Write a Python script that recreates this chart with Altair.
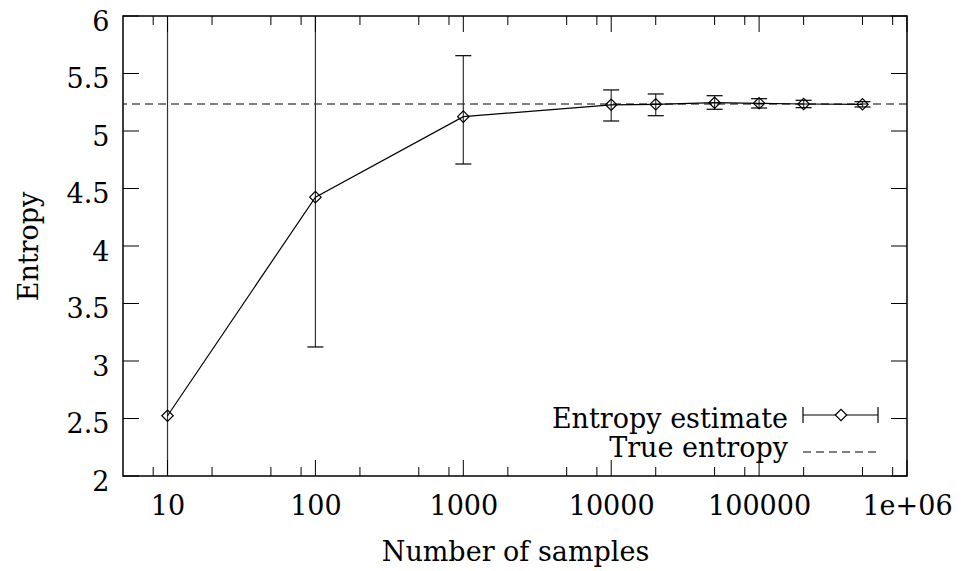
import altair as alt
import pandas as pd

# ---- data ----
samples = [10, 100, 1000, 10000, 20000, 50000, 100000, 200000, 500000]
estimate = [2.524, 4.425, 5.125, 5.228, 5.232, 5.246, 5.241, 5.235, 5.232]
err_low = [0.0, 3.122, 4.713, 5.087, 5.133, 5.189, 5.200, 5.203, 5.209]
err_high = [6.4, 6.4, 5.655, 5.357, 5.322, 5.307, 5.281, 5.267, 5.255]
true_entropy = [5.235]

x_major = [10, 100, 1000, 10000, 100000, 1000000]
x_minor = [8, 20, 50, 80, 200, 500, 800, 2000, 5000, 8000,
           20000, 50000, 80000, 200000, 500000, 800000]
y_ticks = [2, 2.5, 3, 3.5, 4, 4.5, 5, 5.5, 6]
legend_labels = ["Entropy estimate", "True entropy"]

FONT = "DejaVu Serif"
FS = 27
W, H = 784, 460

df = pd.DataFrame({"x": samples, "y": estimate, "lo": err_low, "hi": err_high})
df_true = pd.DataFrame({"y": true_entropy})
df_major = pd.DataFrame({"x": x_major})
df_minor = pd.DataFrame({"x": x_minor})
df_yt = pd.DataFrame({"y": y_ticks})
one = alt.Data(values=[{"k": 0}])

xs = alt.Scale(type="log", domain=[5, 1000000], nice=False)
ys = alt.Scale(domain=[2, 6], nice=False, zero=False)

xaxis = alt.Axis(
    values=x_major,
    labelExpr="datum.value >= 1000000 ? '1e+06' : format(datum.value, 'd')",
    ticks=False, domain=False, grid=False,
    labelPadding=17, labelFont=FONT, labelFontSize=FS, labelColor="black",
    labelFlush=False, labelOverlap=False,
    title="Number of samples", titleFont=FONT, titleFontSize=FS,
    titleFontWeight="normal", titleColor="black", titleY=76, titleBaseline="middle",
)
yaxis = alt.Axis(
    values=y_ticks, format="~g",
    ticks=False, domain=False, grid=False,
    labelPadding=14, labelOffset=6, labelFont=FONT, labelFontSize=FS, labelColor="black",
    labelFlush=False, labelOverlap=False,
    title="Entropy", titleFont=FONT, titleFontSize=FS,
    titleFontWeight="normal", titleColor="black", titleX=-94, titleY=230,
    titleBaseline="middle", titleAngle=270,
)

X = alt.X("x:Q", scale=xs, axis=xaxis)
Y = alt.Y("y:Q", scale=ys, axis=yaxis)

# frame ticks (inward)
yt_left = alt.Chart(df_yt).mark_rule(color="black", strokeWidth=1).encode(
    y=Y, x=alt.value(0), x2=alt.value(16))
yt_right = alt.Chart(df_yt).mark_rule(color="black", strokeWidth=1).encode(
    y=Y, x=alt.value(W), x2=alt.value(W - 16))
xt_bot = alt.Chart(df_major).mark_rule(color="black", strokeWidth=1).encode(
    x=X, y=alt.value(H), y2=alt.value(H - 16))
xt_top = alt.Chart(df_major).mark_rule(color="black", strokeWidth=1).encode(
    x=X, y=alt.value(0), y2=alt.value(16))
xm_bot = alt.Chart(df_minor).mark_rule(color="black", strokeWidth=1).encode(
    x=X, y=alt.value(H), y2=alt.value(H - 9))
xm_top = alt.Chart(df_minor).mark_rule(color="black", strokeWidth=1).encode(
    x=X, y=alt.value(0), y2=alt.value(9))

true_line = alt.Chart(df_true).mark_rule(
    color="black", strokeWidth=1.2, strokeDash=[8, 5]).encode(y=Y)

err_bar = alt.Chart(df).mark_rule(color="#333", strokeWidth=1.2, clip=True).encode(
    x=X, y=alt.Y("lo:Q", scale=ys, axis=yaxis), y2="hi:Q")
cap_lo = alt.Chart(df).mark_rule(color="black", strokeWidth=1.2, clip=True,
                                 xOffset=-8, x2Offset=8).encode(
    x=X, x2="x:Q", y=alt.Y("lo:Q", scale=ys, axis=yaxis))
cap_hi = alt.Chart(df).mark_rule(color="black", strokeWidth=1.2, clip=True,
                                 xOffset=-8, x2Offset=8).encode(
    x=X, x2="x:Q", y=alt.Y("hi:Q", scale=ys, axis=yaxis))
line = alt.Chart(df).mark_line(color="black", strokeWidth=1.2).encode(x=X, y=Y)
pts = alt.Chart(df).mark_point(shape="diamond", size=130, filled=False,
                               color="black", strokeWidth=1.2, opacity=1).encode(x=X, y=Y)

# legend (inside plot, bottom right)
LX_TEXT, LX0, LX1, LXD = 665, 680, 755, 718
LY1, LY2 = 399, 436
leg_t1 = alt.Chart(one).mark_text(text=legend_labels[0], align="right", baseline="middle",
                                  font=FONT, fontSize=FS, color="black").encode(
    x=alt.value(LX_TEXT), y=alt.value(LY1 + 5))
leg_t2 = alt.Chart(one).mark_text(text=legend_labels[1], align="right", baseline="middle",
                                  font=FONT, fontSize=FS, color="black").encode(
    x=alt.value(LX_TEXT), y=alt.value(LY2 - 3))
leg_l1 = alt.Chart(one).mark_rule(color="black", strokeWidth=1.2).encode(
    x=alt.value(LX0), x2=alt.value(LX1), y=alt.value(LY1))
leg_c1 = alt.Chart(one).mark_rule(color="black", strokeWidth=1.2).encode(
    x=alt.value(LX0), y=alt.value(LY1 - 8), y2=alt.value(LY1 + 8))
leg_c2 = alt.Chart(one).mark_rule(color="black", strokeWidth=1.2).encode(
    x=alt.value(LX1), y=alt.value(LY1 - 8), y2=alt.value(LY1 + 8))
leg_p = alt.Chart(one).mark_point(shape="diamond", size=130, filled=True, fill="white",
                                  stroke="black", strokeWidth=1.2, opacity=1).encode(
    x=alt.value(LXD), y=alt.value(LY1))
leg_d = alt.Chart(one).mark_rule(color="black", strokeWidth=1.2, strokeDash=[8, 5]).encode(
    x=alt.value(LX0), x2=alt.value(LX1), y=alt.value(LY2))

chart = alt.layer(
    true_line, err_bar, cap_lo, cap_hi, line, pts,
    yt_left, yt_right, xt_bot, xt_top, xm_bot, xm_top,
    leg_t1, leg_t2, leg_l1, leg_c1, leg_c2, leg_p, leg_d,
).properties(
    width=W, height=H,
    autosize=alt.AutoSizeParams(type="none"),
    padding={"left": 123, "top": 16, "right": 55, "bottom": 95},
    background="white",
).configure_view(stroke="black", strokeWidth=1.5)

chart.save("out.html", embed_options={"renderer": "svg", "actions": False})
